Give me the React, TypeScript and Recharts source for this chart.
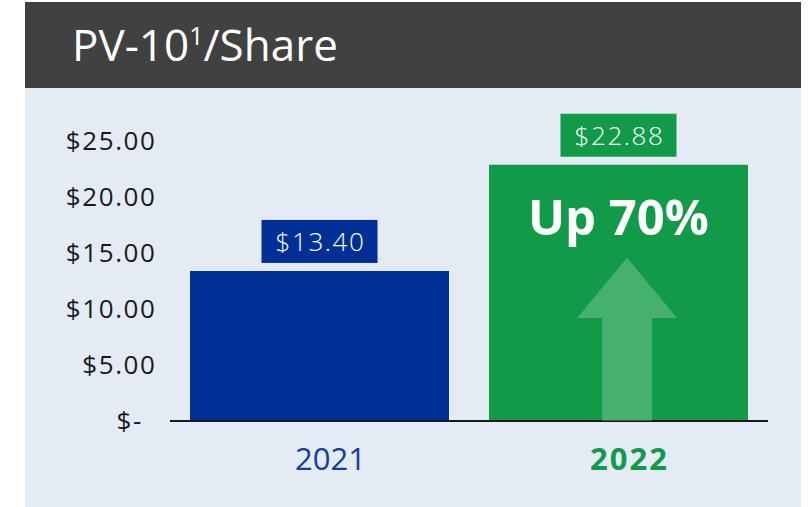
import React from 'react';
import { BarChart, Bar, XAxis, YAxis, LabelList, Cell } from 'recharts';

const years = ['2021', '2022'];
const pvPerShare = [13.4, 22.88];
const yTicks = [0, 5, 10, 15, 20, 25];
const changeText = 'Up 70%';

const BLUE = '#002f96';
const GREEN = '#119a48';
const FONT = '"Open Sans", sans-serif';
const barColors = [BLUE, GREEN];
const yearColors = ['#133f9f', GREEN];

const data = years.map((year, i) => ({ year, value: pvPerShare[i] }));

function YTick(props: any) {
  const { x, y, payload } = props;
  const v = payload.value;
  const label = v === 0 ? '$-' : `$${v.toFixed(2)}`;
  return (
    <text
      x={v === 0 ? x - 12 : x + 1.5}
      y={y}
      dy="0.36em"
      textAnchor="end"
      fill="#1a1a1a"
      fontSize={26}
      letterSpacing={1.6}
      fontFamily={FONT}
    >
      {label}
    </text>
  );
}

function XTick(props: any) {
  const { x, y, payload, index } = props;
  const bold = index === 1;
  return (
    <text
      x={x + 11}
      y={y + 49}
      textAnchor="middle"
      fill={yearColors[index]}
      fontSize={31}
      fontWeight={bold ? 700 : 400}
      letterSpacing={bold ? 2 : 0}
      fontFamily={FONT}
    >
      {payload.value}
    </text>
  );
}

function ValueBox(props: any) {
  const { x, y, width, value, index } = props;
  const cx = x + width / 2;
  const boxW = 116;
  const boxH = 43;
  const top = y - 8 - boxH;
  return (
    <g>
      <rect x={cx - boxW / 2} y={top} width={boxW} height={boxH} fill={barColors[index]} />
      <text
        x={cx + 1}
        y={top + boxH / 2}
        dy="0.36em"
        textAnchor="middle"
        fill="#fff"
        fontSize={26}
        fontWeight={300}
        letterSpacing={1.6}
        fontFamily={FONT}
      >
        {`$${Number(value).toFixed(2)}`}
      </text>
    </g>
  );
}

function ChangeMark(props: any) {
  const { x, y, width, height, index } = props;
  if (index !== 1) return null;
  const ax = x + width * 0.533;
  const tip = y + height * 0.363;
  const base = y + height * 0.598;
  const hw = width * 0.193;
  const sw = width * 0.0965;
  const bottom = y + height;
  const pts = [
    [ax, tip],
    [ax + hw, base],
    [ax + sw, base],
    [ax + sw, bottom],
    [ax - sw, bottom],
    [ax - sw, base],
    [ax - hw, base],
  ]
    .map((p) => p.join(','))
    .join(' ');
  return (
    <g>
      <polygon points={pts} fill="#fff" fillOpacity={0.22} />
      <text x={x + width / 2} y={y + 70} textAnchor="middle" fill="#fff" fontSize={49} fontWeight={700} fontFamily={FONT}>
        {changeText}
      </text>
    </g>
  );
}

export default function App() {
  return (
    <div style={{ position: 'absolute', left: 0, top: 0, width: 810, height: 507, background: '#fff', overflow: 'hidden' }}>
      <div style={{ position: 'absolute', left: 25, top: 2, width: 776, height: 505, background: '#e4ebf5' }} />
      <svg style={{ position: 'absolute', left: 25, top: 2 }} width={776} height={86}>
        <rect x={0} y={0} width={776} height={86} fill="#414141" />
        <text x={47} y={59} fill="#fff" fontSize={44} fontFamily={FONT}>
          PV-10
          <tspan fontSize={25} dy={-16}>1</tspan>
          <tspan fontSize={44} dy={16}>/Share</tspan>
        </text>
      </svg>
      <div style={{ position: 'absolute', left: 0, top: 0 }}>
        <BarChart width={810} height={507} data={data} margin={{ top: 141, right: 42, bottom: 26, left: 0 }}>
          <XAxis
            dataKey="year"
            height={60}
            axisLine={{ stroke: '#1a1a1a', strokeWidth: 2 }}
            tickLine={false}
            tickSize={0}
            tickMargin={0}
            tick={<XTick />}
          />
          <YAxis
            width={170}
            domain={[0, 25]}
            ticks={yTicks}
            axisLine={false}
            tickLine={false}
            tickSize={0}
            tickMargin={15}
            tick={<YTick />}
          />
          <Bar dataKey="value" barSize={259} isAnimationActive={false}>
            {data.map((d, i) => (
              <Cell key={d.year} fill={barColors[i]} />
            ))}
            <LabelList dataKey="value" content={<ValueBox />} />
            <LabelList dataKey="value" content={<ChangeMark />} />
          </Bar>
        </BarChart>
      </div>
    </div>
  );
}
